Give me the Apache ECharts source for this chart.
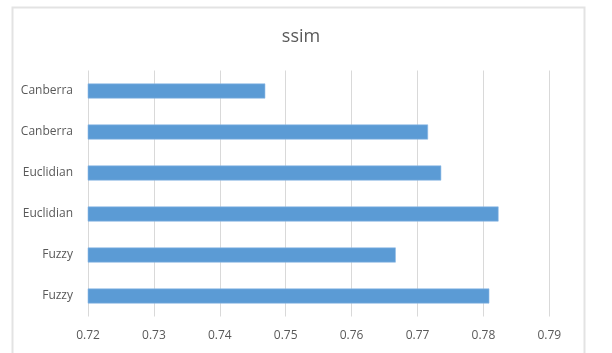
<!DOCTYPE html>
<html>
<head>
<meta charset="utf-8">
<script src="https://cdn.jsdelivr.net/npm/echarts@6/dist/echarts.min.js"></script>
<style>
html,body{margin:0;padding:0;background:#fff;}
#chart{width:612px;height:353px;}
</style>
</head>
<body>
<div id="chart"></div>
<script>
// Categories listed bottom-to-top
const categories = ['Fuzzy', 'Fuzzy', 'Euclidian', 'Euclidian', 'Canberra', 'Canberra'];
const ssimValues = [0.7809, 0.7667, 0.7823, 0.7736, 0.7716, 0.7469];
const titleText = 'ssim';
const xMin = 0.72, xMax = 0.79, xStep = 0.01;

const chart = echarts.init(document.getElementById('chart'));
const FONT = '"Open Sans", sans-serif';
chart.setOption({
  animation: false,
  backgroundColor: '#ffffff',
  title: {
    text: titleText,
    left: 296, textAlign: 'center',
    top: 23,
    textStyle: {fontFamily: FONT, fontSize: 18, fontWeight: 'normal', color: '#595959'}
  },
  graphic: [{
    type: 'rect', left: 10, top: 5,
    shape: {width: 572, height: 360},
    style: {fill: 'none', stroke: '#e3e3e3', lineWidth: 2},
    silent: true
  }],
  grid: {left: 88, right: 62.7, top: 70.5, bottom: 36.5, containLabel: false},
  xAxis: {
    type: 'value', min: xMin, max: xMax, interval: xStep,
    axisLine: {show: false}, axisTick: {show: false},
    splitLine: {show: true, lineStyle: {color: '#d9d9d9', width: 1}},
    axisLabel: {
      margin: 13, color: '#595959', fontFamily: FONT, fontSize: 12,
      formatter: v => v.toFixed(2)
    }
  },
  yAxis: {
    type: 'category', data: categories,
    axisLine: {show: false}, axisTick: {show: false},
    splitLine: {show: false},
    axisLabel: {
      margin: 15, color: '#595959', fontFamily: FONT, fontSize: 12,
      formatter: (v, i) => categories[i]
    }
  },
  series: [{
    type: 'bar', data: ssimValues, barWidth: 15,
    itemStyle: {color: '#5b9bd5', borderColor: '#8dbbe6', borderWidth: 0.6}
  }]
});
</script>
</body>
</html>
